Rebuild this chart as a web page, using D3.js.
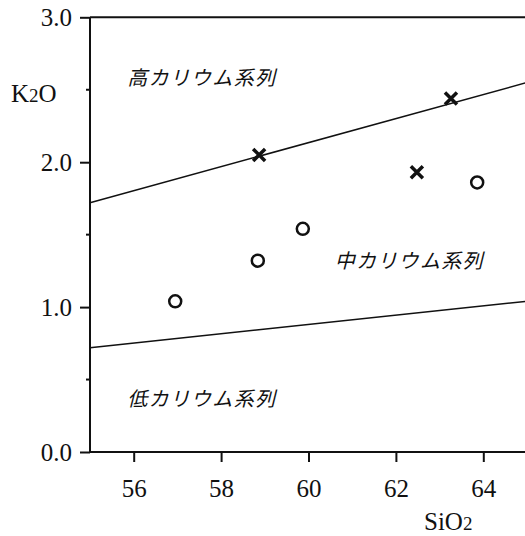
<!DOCTYPE html>
<meta charset="utf-8">
<script src="https://d3js.org/d3.v7.min.js"></script>
<style>
  body { margin: 0; background: #fff; }
  text { fill: #111; }
</style>
<body>
<script>
// Data
const xTicks = [56, 58, 60, 62, 64];
const yTicks = [0.0, 1.0, 2.0, 3.0];
const yMinorTicks = [0.5, 1.5, 2.5];

// x marks (SiO2, K2O)
const crossSiO2 = [58.87, 63.26, 62.48];
const crossK2O  = [2.05, 2.44, 1.93];
// open circles
const circleSiO2 = [56.95, 58.84, 59.87, 63.86];
const circleK2O  = [1.04, 1.32, 1.54, 1.86];

// boundary lines (endpoints at SiO2 55 and 65)
const boundSiO2 = [55, 65];
const highMedK2O = [1.72, 2.55];
const medLowK2O  = [0.72, 1.04];

const seriesLabels = ["高カリウム系列", "中カリウム系列", "低カリウム系列"];
const labelPos = [[55.85, 2.53], [60.6, 1.27], [55.85, 0.32]];

const width = 525, height = 536;

const svg = d3.select("body").append("svg")
  .attr("width", width)
  .attr("height", height);

const x = d3.scaleLinear().domain([55, 65]).range([90, 527]);
const y = d3.scaleLinear().domain([0, 3]).range([452, 17.3]);

const serif = "'Liberation Serif', 'DejaVu Serif', serif";

// boundary lines
const line = d3.line().x(d => x(d[0])).y(d => y(d[1]));
[highMedK2O, medLowK2O].forEach(vals => {
  svg.append("path")
    .datum(boundSiO2.map((s, i) => [s, vals[i]]))
    .attr("d", line)
    .attr("fill", "none")
    .attr("stroke", "#111")
    .attr("stroke-width", 1.5);
});

// top frame line
svg.append("line")
  .attr("x1", x(55)).attr("x2", width)
  .attr("y1", y(3)).attr("y2", y(3))
  .attr("stroke", "#111").attr("stroke-width", 2);

// x axis
const xAxis = svg.append("g")
  .attr("transform", `translate(0,${y(0)})`)
  .call(d3.axisBottom(x).tickValues(xTicks).tickSize(10).tickPadding(17)
    .tickFormat(d3.format("d")));
xAxis.select(".domain").attr("d", `M${x(55)},0H${width}`).attr("stroke-width", 2).attr("stroke", "#111");
xAxis.selectAll(".tick line").attr("stroke-width", 2).attr("stroke", "#111");
xAxis.selectAll(".tick text")
  .style("font-family", serif).style("font-size", "25px").attr("fill", "#111");

// y axis
const yAxis = svg.append("g")
  .attr("transform", `translate(${x(55)},0)`)
  .call(d3.axisLeft(y).tickValues(yTicks).tickSize(10).tickPadding(8)
    .tickFormat(d3.format(".1f")));
yAxis.select(".domain").attr("d", `M0,${y(3)}V${y(0)}`).attr("stroke-width", 2).attr("stroke", "#111");
yAxis.selectAll(".tick line").attr("stroke-width", 2).attr("stroke", "#111");
yAxis.selectAll(".tick text")
  .style("font-family", serif).style("font-size", "25px").attr("fill", "#111");

// y minor ticks
svg.append("g").selectAll("line")
  .data(yMinorTicks)
  .join("line")
  .attr("x1", x(55) - 4).attr("x2", x(55))
  .attr("y1", d => y(d)).attr("y2", d => y(d))
  .attr("stroke", "#111").attr("stroke-width", 2);

// axis titles
const k2o = svg.append("text")
  .attr("x", 11).attr("y", 102)
  .style("font-family", serif).style("font-size", "25px");
k2o.append("tspan").text("K");
k2o.append("tspan").text("2").style("font-size", "19px");
k2o.append("tspan").text("O");

const sio2 = svg.append("text")
  .attr("x", 424).attr("y", 530)
  .style("font-family", serif).style("font-size", "25px");
sio2.append("tspan").text("SiO");
sio2.append("tspan").text("2").style("font-size", "19px");

// region labels
svg.append("g").selectAll("text")
  .data(seriesLabels)
  .join("text")
  .attr("x", (d, i) => x(labelPos[i][0]))
  .attr("y", (d, i) => y(labelPos[i][1]))
  .style("font-family", "'Noto Sans CJK JP', sans-serif")
  .style("font-size", "20px")
  .style("font-weight", 400)
  .style("font-style", "italic")
  .style("letter-spacing", "1.3px")
  .text(d => d);

// circles
svg.append("g").selectAll("circle")
  .data(circleSiO2.map((s, i) => [s, circleK2O[i]]))
  .join("circle")
  .attr("cx", d => x(d[0]))
  .attr("cy", d => y(d[1]))
  .attr("r", 6)
  .attr("fill", "none")
  .attr("stroke", "#111")
  .attr("stroke-width", 2.5);

// crosses
svg.append("g").selectAll("path")
  .data(crossSiO2.map((s, i) => [s, crossK2O[i]]))
  .join("path")
  .attr("transform", d => `translate(${x(d[0])},${y(d[1])})`)
  .attr("d", "M-6,-6L6,6M-6,6L6,-6")
  .attr("fill", "none")
  .attr("stroke", "#111")
  .attr("stroke-width", 3.5);
</script>
</body>
</html>
